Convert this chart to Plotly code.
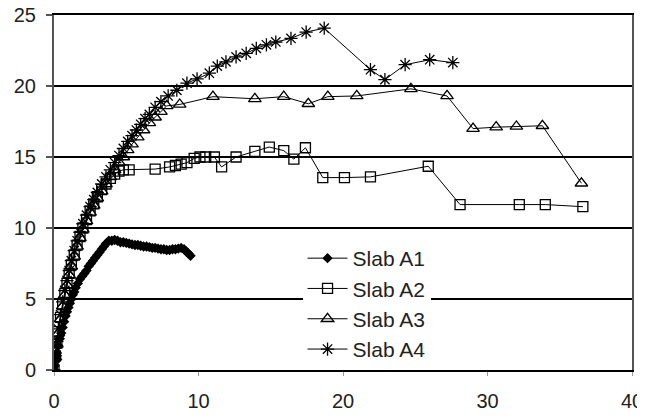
import plotly.graph_objects as go

a1_x = [0, 0.05, 0.1, 0.15, 0.2, 0.3, 0.4, 0.5, 0.6, 0.7, 0.8, 0.9, 1.0, 1.1, 1.2, 1.3, 1.4, 1.5, 1.65, 1.8,
        1.95, 2.1, 2.25, 2.4, 2.55, 2.7, 2.85, 3.0, 3.15, 3.3, 3.45, 3.6, 3.8, 4.0, 4.2, 4.4, 4.6, 4.8, 5.0, 5.2,
        5.4, 5.6, 5.8, 6.0, 6.2, 6.4, 6.6, 6.8, 7.0, 7.2, 7.4, 7.6, 7.8, 8.0, 8.2, 8.4, 8.6, 8.8, 9.0, 9.15, 9.3, 9.45]
a1_y = [0, 0.3, 0.6, 0.9, 1.2, 1.7, 2.2, 2.6, 3.0, 3.4, 3.8, 4.1, 4.4, 4.7, 5.0, 5.3, 5.5, 5.8, 6.1, 6.4,
        6.6, 6.8, 7.0, 7.3, 7.5, 7.7, 7.9, 8.1, 8.3, 8.5, 8.7, 8.9, 9.1, 9.1, 9.15, 9.1, 9.0, 9.0, 8.95, 8.9,
        8.85, 8.8, 8.8, 8.75, 8.7, 8.7, 8.65, 8.6, 8.6, 8.55, 8.5, 8.5, 8.45, 8.45, 8.5, 8.5, 8.55, 8.6, 8.5, 8.35, 8.2, 8.05]

a2_x = [0, 0.1, 0.2, 0.3, 0.45, 0.6, 0.75, 0.9, 1.05, 1.2, 1.4, 1.6, 1.8, 2.0, 2.25, 2.5, 2.75, 3.0, 3.3, 3.6,
        3.9, 4.2, 4.5, 4.8, 5.2, 7.0, 8.0, 8.4, 8.8, 9.2, 9.7, 10.1, 10.5, 11.1, 11.6, 12.6, 13.9, 14.9, 15.9,
        16.6, 17.4, 18.6, 20.1, 21.9, 25.9, 28.1, 32.2, 34.0, 36.6]
a2_y = [0, 1.0, 1.9, 2.7, 3.7, 4.6, 5.4, 6.1, 6.8, 7.4, 8.1, 8.8, 9.4, 10.0, 10.6, 11.2, 11.7, 12.2, 12.7, 13.1,
        13.5, 13.8, 14.0, 14.1, 14.1, 14.15, 14.3, 14.4, 14.5, 14.6, 14.9, 15.0, 15.0, 15.0, 14.3, 15.0, 15.4, 15.7, 15.45,
        14.85, 15.65, 13.55, 13.55, 13.6, 14.35, 11.65, 11.65, 11.65, 11.5]

a3_x = [0, 0.1, 0.2, 0.3, 0.45, 0.6, 0.75, 0.9, 1.05, 1.2, 1.4, 1.6, 1.8, 2.0, 2.25, 2.5, 2.75, 3.0, 3.3, 3.6,
        3.9, 4.2, 4.5, 4.8, 5.1, 5.4, 5.8, 6.2, 6.6, 7.0, 7.4, 7.8, 8.7, 11.0, 13.9, 15.9, 17.6, 18.95, 20.95,
        24.7, 27.2, 29.0, 30.6, 32.0, 33.8, 36.5]
a3_y = [0, 0.9, 1.8, 2.6, 3.6, 4.5, 5.3, 6.0, 6.7, 7.3, 8.0, 8.7, 9.3, 9.9, 10.5, 11.1, 11.6, 12.1, 12.6, 13.1,
        13.6, 14.1, 14.6, 15.0, 15.5, 15.9, 16.4, 16.9, 17.4, 17.8, 18.2, 18.6, 18.7, 19.25, 19.1, 19.25, 18.75, 19.25, 19.3,
        19.8, 19.3, 17.0, 17.1, 17.15, 17.2, 13.15]

a4_x = [0, 0.1, 0.2, 0.3, 0.45, 0.6, 0.75, 0.9, 1.05, 1.2, 1.4, 1.6, 1.8, 2.0, 2.25, 2.5, 2.75, 3.0, 3.3, 3.6,
        3.9, 4.2, 4.5, 4.8, 5.1, 5.4, 5.7, 6.0, 6.3, 6.6, 7.0, 7.4, 7.9, 8.5, 9.2, 9.9, 10.75, 11.3, 11.9, 12.6,
        13.3, 14.0, 14.7, 15.35, 16.4, 17.45, 18.7, 21.9, 22.9, 24.3, 26.0, 27.6]
a4_y = [0, 1.0, 2.0, 2.9, 3.9, 4.8, 5.6, 6.3, 7.0, 7.7, 8.4, 9.1, 9.7, 10.3, 10.9, 11.5, 12.0, 12.5, 13.1, 13.6,
        14.1, 14.6, 15.1, 15.6, 16.1, 16.5, 16.9, 17.3, 17.7, 18.0, 18.5, 18.9, 19.3, 19.7, 20.2, 20.5, 20.9, 21.4, 21.7, 22.05,
        22.3, 22.65, 22.9, 23.1, 23.35, 23.8, 24.07, 21.15, 20.45, 21.5, 21.85, 21.65]

names = ["Slab A1", "Slab A2", "Slab A3", "Slab A4"]
x_ticks = [0, 10, 20, 30, 40]
y_ticks = [0, 5, 10, 15, 20, 25]

fig = go.Figure()
fig.add_trace(go.Scatter(x=a1_x, y=a1_y, name=names[0], mode="lines+markers",
                         line=dict(color="black", width=1),
                         marker=dict(symbol="diamond", size=8, color="black")))
fig.add_trace(go.Scatter(x=a2_x, y=a2_y, name=names[1], mode="lines+markers",
                         line=dict(color="black", width=1),
                         marker=dict(symbol="square-open", size=10, color="black", line=dict(width=1.3))))
fig.add_trace(go.Scatter(x=a3_x, y=a3_y, name=names[2], mode="lines+markers",
                         line=dict(color="black", width=1),
                         marker=dict(symbol="triangle-up-open", size=11, color="black", line=dict(width=1.3))))
fig.add_trace(go.Scatter(x=a4_x, y=a4_y, name=names[3], mode="lines+markers",
                         line=dict(color="black", width=1),
                         marker=dict(symbol="asterisk-open", size=11, color="black", line=dict(width=1.3))))

fig.update_layout(
    width=645, height=416,
    margin=dict(l=46, r=21, t=7, b=54, autoexpand=False),
    paper_bgcolor="white", plot_bgcolor="white",
    font=dict(family="Liberation Sans, Arial, sans-serif", size=20, color="#222"),
    showlegend=True,
    legend=dict(x=0.43, xanchor="left", y=0.0, yanchor="bottom",
                bgcolor="white", borderwidth=0, font=dict(size=21, color="#222"),
                tracegroupgap=0, itemwidth=40),
    xaxis=dict(range=[0, 40], tickvals=x_ticks, showgrid=False, zeroline=False, automargin=False,
               showline=True, linecolor="black", linewidth=2, mirror=True, ticklabeloverflow="allow",
               ticks="outside", ticklen=4, tickcolor="#999", tickwidth=1, ticklabelstandoff=8),
    yaxis=dict(range=[0, 25], tickvals=y_ticks, showgrid=True, gridcolor="black", gridwidth=1.6,
               zeroline=False, showline=True, linecolor="#555", linewidth=2, mirror=True, automargin=False,
               ticklabeloverflow="allow",
               ticks="outside", ticklen=6, tickcolor="#555", tickwidth=1.5, ticklabelstandoff=6),
)

fig.write_html("out.html")
